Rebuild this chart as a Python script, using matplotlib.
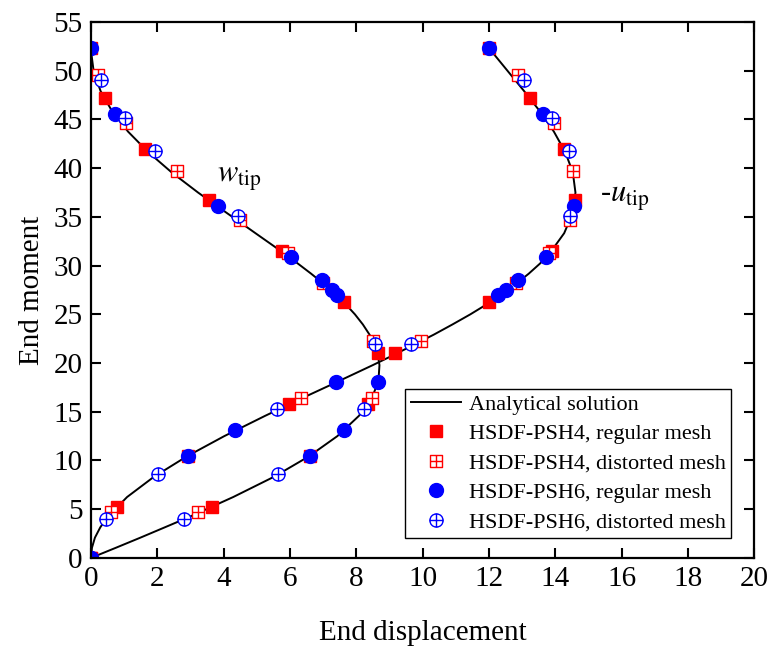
import matplotlib
matplotlib.use("Agg")
import matplotlib.pyplot as plt
from matplotlib.path import Path

plt.rcParams['font.family'] = ['Liberation Serif', 'DejaVu Serif']
plt.rcParams['mathtext.fontset'] = 'stix'

# Solution analytique (moment en bout, deplacements w et -u)
M_ana = [0, 1.04, 2.08, 3.13, 4.17, 6.25, 8.33, 10.42, 12.5, 14.58, 16.67, 17.71,
         18.75, 19.79, 20.83, 21.88, 22.92, 23.96, 25.0, 26.04, 27.08, 28.13, 29.17,
         30.21, 31.25, 33.33, 35.42, 37.5, 39.58, 41.67, 43.75, 45.83, 47.92, 50.0,
         52.08, 52.36]
w_ana = [0, 0.75, 1.49, 2.22, 2.94, 4.29, 5.52, 6.57, 7.43, 8.08, 8.50, 8.62,
         8.68, 8.70, 8.65, 8.55, 8.40, 8.20, 7.96, 7.68, 7.36, 7.02, 6.64,
         6.24, 5.83, 4.96, 4.09, 3.23, 2.43, 1.72, 1.12, 0.64, 0.29, 0.08,
         0.00, 0.0]
u_ana = [0, 0.03, 0.12, 0.28, 0.49, 1.09, 1.90, 2.89, 4.02, 5.25, 6.54, 7.20,
         7.85, 8.50, 9.13, 9.74, 10.34, 10.90, 11.44, 11.94, 12.40, 12.82, 13.20,
         13.54, 13.83, 14.27, 14.53, 14.61, 14.53, 14.30, 13.96, 13.54, 13.06, 12.56,
         12.06, 12.0]

# HSDF-PSH4, maillage regulier
y4r = [0, 5.25, 10.5, 15.75, 21.0, 26.25, 31.5, 36.75, 42.0, 47.25, 52.36]
w4r = [0, 3.66, 6.60, 8.34, 8.67, 7.64, 5.76, 3.56, 1.63, 0.41, 0]
u4r = [0, 0.78, 2.93, 5.97, 9.18, 12.0, 13.89, 14.61, 14.25, 13.23, 12.0]

# HSDF-PSH4, maillage distordu
y4d = [4.7, 16.4, 22.3, 28.2, 31.3, 34.7, 39.7, 44.6, 49.6]
w4d = [3.24, 8.47, 8.52, 7.0, 5.95, 4.5, 2.6, 1.06, 0.2]
u4d = [0.61, 6.33, 9.96, 12.82, 13.82, 14.45, 14.55, 13.95, 12.88]

# HSDF-PSH6, maillage regulier
y6r = [0, 10.5, 13.15, 18.05, 27.0, 27.45, 28.5, 30.9, 36.1, 45.6, 52.36]
w6r = [0, 6.60, 7.62, 8.67, 7.42, 7.27, 6.96, 6.04, 3.84, 0.74, 0]
u6r = [0, 2.93, 4.35, 7.38, 12.28, 12.52, 12.89, 13.71, 14.57, 13.63, 12.0]

# HSDF-PSH6, maillage distordu
y6d = [4.0, 8.6, 15.3, 22.0, 35.1, 41.8, 45.2, 49.1]
w6d = [2.80, 5.64, 8.24, 8.57, 4.42, 1.92, 1.02, 0.31]
u6d = [0.46, 2.01, 5.62, 9.64, 14.46, 14.42, 13.91, 13.06]

# Marqueurs "carre avec croix" et "cercle avec croix"
cross = Path([(0, -1), (0, 1), (-1, 0), (1, 0)],
             [Path.MOVETO, Path.LINETO, Path.MOVETO, Path.LINETO])
square = Path([(-1, -1), (1, -1), (1, 1), (-1, 1), (-1, -1)],
              [Path.MOVETO, Path.LINETO, Path.LINETO, Path.LINETO, Path.CLOSEPOLY])
sq_cross = Path.make_compound_path(square, cross)
circ_cross = Path.make_compound_path(Path.unit_circle(), cross)

fig = plt.figure(figsize=(7.84, 6.48), dpi=100)
ax = fig.add_axes([0.116, 0.139, 0.846, 0.827])

ax.plot(w_ana, M_ana, color="black", lw=1.4, label="Analytical solution")
ax.plot(u_ana, M_ana, color="black", lw=1.4)

ax.plot(w4r, y4r, ls="none", marker="s", ms=9, mfc="red", mec="red",
        label="HSDF-PSH4, regular mesh")
ax.plot(u4r, y4r, ls="none", marker="s", ms=9, mfc="red", mec="red")

ax.plot(w4d, y4d, ls="none", marker=sq_cross, ms=9, mfc="white", mec="red", mew=1.0,
        label="HSDF-PSH4, distorted mesh")
ax.plot(u4d, y4d, ls="none", marker=sq_cross, ms=9, mfc="white", mec="red", mew=1.0)

ax.plot(w6r, y6r, ls="none", marker="o", ms=10, mfc="blue", mec="blue",
        label="HSDF-PSH6, regular mesh")
ax.plot(u6r, y6r, ls="none", marker="o", ms=10, mfc="blue", mec="blue")

ax.plot(w6d, y6d, ls="none", marker=circ_cross, ms=9.5, mfc="white", mec="blue", mew=1.0,
        label="HSDF-PSH6, distorted mesh")
ax.plot(u6d, y6d, ls="none", marker=circ_cross, ms=9.5, mfc="white", mec="blue", mew=1.0)

ax.text(3.8, 38.6, r"$w_{\rm tip}$", fontsize=22)
ax.text(15.35, 36.6, r"-$u_{\rm tip}$", fontsize=22)

ax.set_xlim(0, 20)
ax.set_ylim(0, 55)
ax.set_xticks(range(0, 21, 2))
ax.set_yticks(range(0, 56, 5))
ax.tick_params(direction="in", length=7, width=1.5, top=True, right=True,
               labelsize=21, pad=6)
for s in ax.spines.values():
    s.set_linewidth(1.6)

ax.set_xlabel("End displacement", fontsize=21, labelpad=20)
ax.set_ylabel("End moment", fontsize=21, labelpad=6)

leg = ax.legend(loc="lower left", bbox_to_anchor=(0.474, 0.037), borderaxespad=0,
                fontsize=16, frameon=True, fancybox=False, framealpha=1,
                edgecolor="black", labelspacing=0.4, handlelength=2.25,
                handletextpad=0.35, borderpad=0.25, numpoints=1)
leg.get_frame().set_linewidth(1.0)

plt.savefig("out.png", dpi=100)
